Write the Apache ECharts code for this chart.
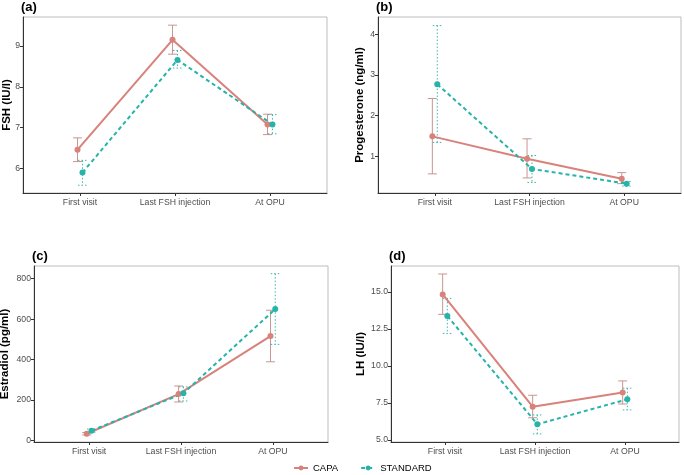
<!DOCTYPE html>
<html><head><meta charset="utf-8">
<script src="https://cdn.jsdelivr.net/npm/echarts@6/dist/echarts.min.js"></script>
<style>html,body{margin:0;padding:0;background:#fff}#c{width:684px;height:475px}</style>
</head><body><div id="c"></div>
<script>
const categories = ['First visit', 'Last FSH injection', 'At OPU'];
const groups = ['CAPA', 'STANDARD'];
// FSH (IU/l)
const fshCapa = [6.46, 9.15, 7.08];
const fshCapaLo = [6.17, 8.80, 6.83];
const fshCapaHi = [6.75, 9.51, 7.33];
const fshStd = [5.90, 8.66, 7.08];
const fshStdLo = [5.59, 8.46, 6.85];
const fshStdHi = [6.20, 8.89, 7.32];
// Progesterone (ng/ml)
const progCapa = [1.49, 0.94, 0.45];
const progCapaLo = [0.57, 0.47, 0.33];
const progCapaHi = [2.42, 1.43, 0.60];
const progStd = [2.77, 0.69, 0.33];
const progStdLo = [1.34, 0.36, 0.27];
const progStdHi = [4.21, 1.02, 0.38];
// Estradiol (pg/ml)
const e2Capa = [33, 229, 516];
const e2CapaLo = [27, 190, 389];
const e2CapaHi = [39, 269, 644];
const e2Std = [48, 233, 650];
const e2StdLo = [41, 195, 475];
const e2StdHi = [56, 265, 825];
// LH (IU/l)
const lhCapa = [14.84, 7.25, 8.20];
const lhCapaLo = [13.49, 6.50, 7.43];
const lhCapaHi = [16.22, 8.02, 8.99];
const lhStd = [13.38, 6.06, 7.75];
const lhStdLo = [12.20, 5.41, 7.03];
const lhStdHi = [14.57, 6.69, 8.50];
// y tick labels
const fshTicks = [6, 7, 8, 9];
const progTicks = [1, 2, 3, 4];
const e2Ticks = [0, 200, 400, 600, 800];
const lhTicks = [5, 7.5, 10, 12.5, 15];

const CAPA_COL = '#D8827B';
const CAPA_ERR = '#C99590';
const STD_COL = '#25B3AA';
const STD_ERR = '#3FB5AE';
const DODGE = 0.026;
const FONT = 'Liberation Sans, Arial, sans-serif';

const panels = [
  {lab:'(a)', name:'FSH (IU/l)', grid:{left:23, top:17, width:304, height:176}, ymin:5.40, ymax:9.71, ticks:fshTicks, fmt:v=>String(v), gap:10,
   c:fshCapa, cl:fshCapaLo, ch:fshCapaHi, s:fshStd, sl:fshStdLo, sh:fshStdHi},
  {lab:'(b)', name:'Progesterone (ng/ml)', grid:{left:378, top:17, width:303, height:176}, ymin:0.10, ymax:4.42, ticks:progTicks, fmt:v=>String(v), gap:12,
   c:progCapa, cl:progCapaLo, ch:progCapaHi, s:progStd, sl:progStdLo, sh:progStdHi},
  {lab:'(c)', name:'Estradiol (pg/ml)', grid:{left:34, top:266, width:294, height:176}, ymin:-8, ymax:863, ticks:e2Ticks, fmt:v=>String(v), gap:23,
   c:e2Capa, cl:e2CapaLo, ch:e2CapaHi, s:e2Std, sl:e2StdLo, sh:e2StdHi},
  {lab:'(d)', name:'LH (IU/l)', grid:{left:391, top:266, width:288, height:176}, ymin:4.86, ymax:16.76, ticks:lhTicks, fmt:v=>v.toFixed(1), gap:24,
   c:lhCapa, cl:lhCapaLo, ch:lhCapaHi, s:lhStd, sl:lhStdLo, sh:lhStdHi}
];

function errRender(color, dashed){
  return function(params, api){
    const x = api.value(0), lo = api.value(1), hi = api.value(2);
    const a = api.coord([x, hi]), b = api.coord([x, lo]);
    const w = 4.5;
    const st = {stroke: color, lineWidth: 1, lineDash: dashed ? [1.5, 2] : null};
    return {type:'group', children:[
      {type:'line', shape:{x1:a[0], y1:a[1], x2:b[0], y2:b[1]}, style:st},
      {type:'line', shape:{x1:a[0]-w, y1:a[1], x2:a[0]+w, y2:a[1]}, style:st},
      {type:'line', shape:{x1:b[0]-w, y1:b[1], x2:b[0]+w, y2:b[1]}, style:st}
    ]};
  };
}

const grids = [], xAxes = [], yAxes = [], series = [], titles = [];
panels.forEach((p, i) => {
  grids.push(Object.assign({containLabel:false, outerBoundsMode:'none'}, p.grid));
  titles.push({text:p.lab, left:p.grid.left - 2, top:p.grid.top - 16.5, padding:0,
    textStyle:{fontFamily:FONT, fontSize:13, fontWeight:'bold', color:'#000'}});
  xAxes.push({type:'value', gridIndex:i, min:0.4, max:3.6,
    axisLine:{show:true, onZero:false, lineStyle:{color:'#333', width:1}},
    axisTick:{show:true, length:3, customValues:[1,2,3], lineStyle:{color:'#333'}},
    axisLabel:{customValues:[1,2,3], formatter:v=>categories[Math.round(v)-1] || '', color:'#4D4D4D', fontSize:8.7, fontFamily:FONT, margin:5},
    splitLine:{show:false}});
  yAxes.push({type:'value', gridIndex:i, min:p.ymin, max:p.ymax,
    name:p.name, nameLocation:'middle', nameGap:p.gap, nameRotate:90, nameMoveOverlap:false,
    nameTextStyle:{fontFamily:FONT, fontSize:11.5, fontWeight:'bold', color:'#000'},
    axisLine:{show:true, onZero:false, lineStyle:{color:'#333', width:1}},
    axisTick:{show:true, length:3, customValues:p.ticks, lineStyle:{color:'#333'}},
    axisLabel:{customValues:p.ticks, formatter:p.fmt, color:'#4D4D4D', fontSize:8.7, fontFamily:FONT, margin:3},
    splitLine:{show:false}});
  const cData = p.c.map((v,k)=>[k+1-DODGE, v]);
  const sData = p.s.map((v,k)=>[k+1+DODGE, v]);
  series.push({name:'CAPA', type:'line', xAxisIndex:i, yAxisIndex:i, data:cData, symbol:'circle', symbolSize:6,
    lineStyle:{color:CAPA_COL, width:2}, itemStyle:{color:CAPA_COL}, z:3, animation:false});
  series.push({name:'STANDARD', type:'line', xAxisIndex:i, yAxisIndex:i, data:sData, symbol:'circle', symbolSize:6,
    lineStyle:{color:STD_COL, width:2, type:[4,3]}, itemStyle:{color:STD_COL}, z:3, animation:false});
  series.push({type:'custom', xAxisIndex:i, yAxisIndex:i, renderItem:errRender(CAPA_ERR, false),
    data:p.c.map((v,k)=>[k+1-DODGE, p.cl[k], p.ch[k]]), encode:{x:0, y:[1,2]}, z:2, silent:true, animation:false});
  series.push({type:'custom', xAxisIndex:i, yAxisIndex:i, renderItem:errRender(STD_ERR, true),
    data:p.s.map((v,k)=>[k+1+DODGE, p.sl[k], p.sh[k]]), encode:{x:0, y:[1,2]}, z:2, silent:true, animation:false});
});

const graphics = panels.map(p => ({type:'rect', silent:true, z:-1,
  shape:{x:p.grid.left, y:p.grid.top, width:p.grid.width, height:p.grid.height},
  style:{fill:'none', stroke:'#BDBDBD', lineWidth:1}}));

const chart = echarts.init(document.getElementById('c'), null, {renderer:'canvas'});
chart.setOption({
  animation:false,
  backgroundColor:'#fff',
  title:titles,
  grid:grids, xAxis:xAxes, yAxis:yAxes, series:series,
  graphic:graphics,
  legend:{data:groups, top:463, left:293, padding:0, itemWidth:14, itemHeight:6, itemGap:22,
    textStyle:{fontFamily:FONT, fontSize:9.5, color:'#000'}}
});
</script></body></html>
